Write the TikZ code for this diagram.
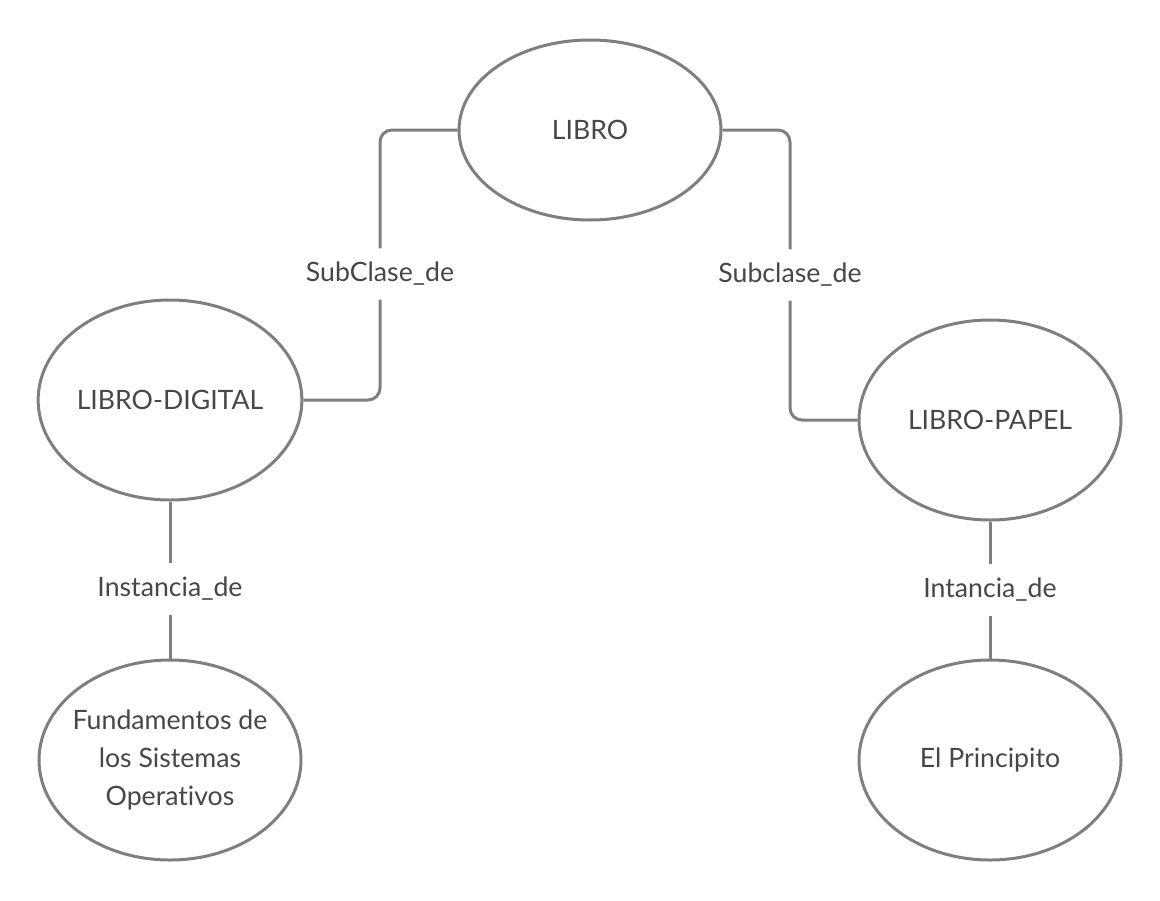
\documentclass[tikz,border=0pt]{standalone}
\usepackage{fontspec}
\setmainfont[Ligatures=NoCommon]{Lato}
\usetikzlibrary{
shapes.geometric,
}
\definecolor{linegray}{HTML}{7F7F7F}
\definecolor{textgray}{HTML}{474747}
\tikzset{
every node/.style={align=center, text=textgray, font=\fontsize{20pt}{28.5pt}\selectfont},
concept/.style={ellipse, draw=linegray, line width=2.25pt, fill=white,
  minimum width=196.5pt, minimum height=150pt, inner sep=0pt},
link/.style={draw=linegray, line width=2.25pt, rounded corners=9pt},
relation/.style={fill=white, inner xsep=2pt, inner ysep=0pt, minimum height=38pt},
}

\begin{document}
\begin{tikzpicture}[x=0.75pt, y=-0.75pt]
    \useasboundingbox (0,0) rectangle (1160,900);

    \node [concept, minimum height=135pt] (libro) at (590,130) {LIBRO};
    \node [concept] (digital) at (170,400) {LIBRO-DIGITAL};
    \node [concept] (papel) at (990,420) {LIBRO-PAPEL};
    \node [concept, inner sep=-30pt] (fundamentos) at (170,760) {Fundamentos de\\los Sistemas\\Operativos};
    \node [concept] (principito) at (990,760) {El Principito};

    \node [relation] (subA) at (380,274) {SubClase\_de};
    \node [relation] (subB) at (790,275) {Subclase\_de};
    \node [relation] (instA) at (170,589) {Instancia\_de};
    \node [relation] (instB) at (990,590) {Intancia\_de};

    % subclases
    \draw [link] (libro.west) -| (subA.north);
    \draw [link] (subA.south) |- (digital.east);
    \draw [link] (libro.east) -| (subB.north);
    \draw [link] (subB.south) |- (papel.west);
    % instancias
    \draw [link] (digital.south) -- (instA.north);
    \draw [link] (instA.south) -- (fundamentos.north);
    \draw [link] (papel.south) -- (instB.north);
    \draw [link] (instB.south) -- (principito.north);
\end{tikzpicture}
\end{document}
